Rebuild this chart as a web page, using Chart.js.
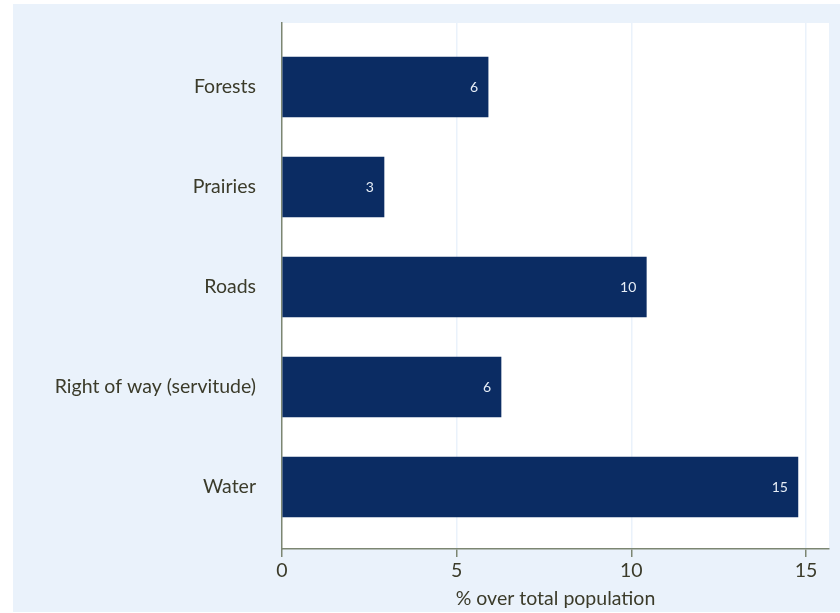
<!DOCTYPE html>
<html>
<head>
<meta charset="utf-8">
<script src="https://cdn.jsdelivr.net/npm/chart.js@4/dist/chart.umd.min.js"></script>
<style>
  html, body { margin: 0; padding: 0; background: #ffffff; }
  #wrap { position: relative; width: 840px; height: 613px; }
</style>
</head>
<body>
<div id="wrap"><canvas id="c" width="840" height="613"></canvas></div>
<script>
// Share of the total population, by type of land
const categories = ['Forests', 'Prairies', 'Roads', 'Right of way (servitude)', 'Water'];
const shares = [5.9, 2.92, 10.43, 6.27, 14.77];
const xTicks = [0, 5, 10, 15];

const textColor = '#3b3b2a';
const axisColor = '#7c8672';
const panelBlue = '#eaf2fb';
const barNavy = '#0b2c63';
const fontFamily = 'Lato, "DejaVu Sans", sans-serif';

// Light-blue panel behind everything and a white plotting region
const backdrop = {
  id: 'backdrop',
  beforeDraw(chart) {
    const { ctx, chartArea: a } = chart;
    ctx.save();
    ctx.fillStyle = panelBlue;
    ctx.fillRect(13, 4, 827, 608);
    ctx.fillStyle = '#ffffff';
    ctx.fillRect(a.left, a.top, a.right - a.left, a.bottom - a.top);
    ctx.restore();
  }
};

// Rounded value written inside the end of each bar
const barValues = {
  id: 'barValues',
  afterDatasetsDraw(chart) {
    const { ctx } = chart;
    const meta = chart.getDatasetMeta(0);
    ctx.save();
    ctx.fillStyle = '#e6edf6';
    ctx.font = '14px ' + fontFamily;
    ctx.textAlign = 'right';
    ctx.textBaseline = 'middle';
    meta.data.forEach((bar, i) => {
      ctx.fillText(String(Math.round(shares[i])), bar.x - 10, bar.y);
    });
    ctx.restore();
  }
};

new Chart(document.getElementById('c'), {
  type: 'bar',
  data: {
    datasets: [{
      data: shares.map((v, i) => ({ x: v, y: i })),
      backgroundColor: barNavy,
      borderWidth: 0,
      barThickness: 60
    }]
  },
  options: {
    indexAxis: 'y',
    responsive: false,
    animation: false,
    layout: { padding: { top: 23, right: 11, bottom: 0, left: 0 } },
    plugins: { legend: { display: false }, tooltip: { enabled: false } },
    scales: {
      x: {
        type: 'linear',
        min: 0,
        max: 15.66,
        offset: false,
        afterBuildTicks(scale) { scale.ticks = xTicks.map(v => ({ value: v })); },
        afterFit(scale) { scale.height = 64; scale.paddingLeft = 0; scale.paddingRight = 0; },
        grid: {
          color: ctx => (ctx.tick && ctx.tick.value === 0) ? 'rgba(0,0,0,0)' : panelBlue,
          lineWidth: 1.5,
          tickColor: axisColor,
          tickLength: 8,
          drawTicks: true
        },
        border: { display: true, color: axisColor, width: 1.5 },
        ticks: {
          color: textColor,
          padding: 2,
          font: { family: fontFamily, size: 19.5 }
        },
        title: {
          display: true,
          text: '% over total population',
          color: textColor,
          padding: { top: 0, bottom: 3 },
          font: { family: fontFamily, size: 19.5 }
        }
      },
      y: {
        type: 'linear',
        reverse: true,
        offset: false,
        min: -0.64,
        max: 4.62,
        afterBuildTicks(scale) { scale.ticks = categories.map((_, i) => ({ value: i })); },
        afterFit(scale) { scale.width = 282; scale.paddingTop = 0; scale.paddingBottom = 0; },
        grid: { display: false, drawTicks: false, offset: false },
        border: { display: true, color: axisColor, width: 1.5 },
        ticks: {
          color: textColor,
          padding: 26,
          autoSkip: false,
          font: { family: fontFamily, size: 19.5 },
          callback: v => categories[v]
        }
      }
    }
  },
  plugins: [backdrop, barValues]
});
</script>
</body>
</html>
